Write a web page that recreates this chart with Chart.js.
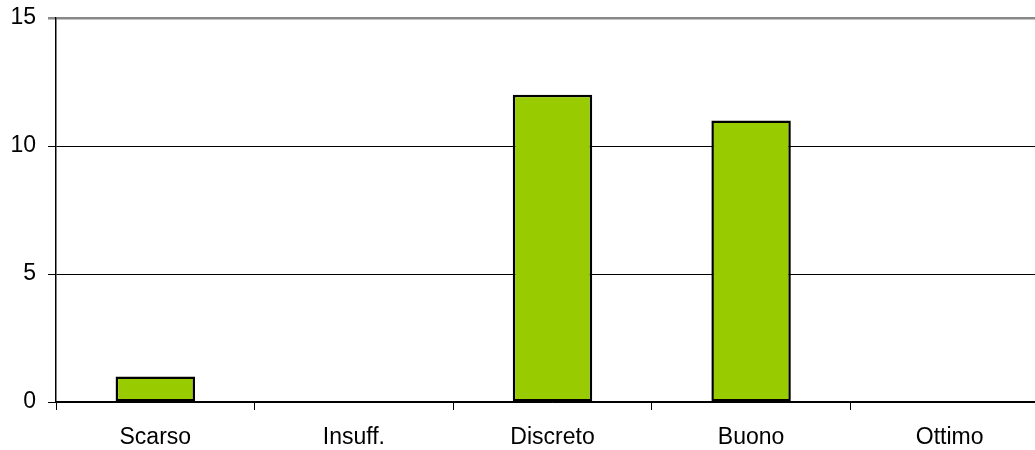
<!DOCTYPE html>
<html>
<head>
<meta charset="utf-8">
<script src="https://cdn.jsdelivr.net/npm/chart.js@4/dist/chart.umd.min.js"></script>
<style>
  html, body { margin: 0; padding: 0; background: #fff; overflow: hidden; }
  #wrap { position: relative; width: 1049px; height: 450px; }
</style>
</head>
<body>
<div id="wrap"><canvas id="chart"></canvas></div>
<script>
const categories = ['Scarso', 'Insuff.', 'Discreto', 'Buono', 'Ottimo']
const counts = [1, 0, 12, 11, 0]
const yTicks = [0, 5, 10, 15]

new Chart(document.getElementById('chart'), {
  type: 'bar',
  data: {
    labels: categories,
    datasets: [
      {
        data: counts,
        backgroundColor: '#99cc00',
        borderColor: '#000000',
        borderWidth: 2.5,
        borderSkipped: false,
        barPercentage: 0.5,
        categoryPercentage: 0.8,
      },
    ],
  },
  options: {
    responsive: true,
    maintainAspectRatio: false,
    animation: false,
    layout: { padding: { top: 18, right: 0, left: 0, bottom: 0 } },
    plugins: { legend: { display: false }, tooltip: { enabled: false } },
    scales: {
      x: {
        grid: { drawOnChartArea: false, color: '#000', tickLength: 8, offset: true },
        border: { color: '#000', width: 1.5 },
        ticks: { color: '#000', font: { family: 'Liberation Sans, Arial', size: 23 }, padding: 14 },
        afterFit: (s) => { s.height = 48 },
      },
      y: {
        min: 0,
        max: 15,
        afterBuildTicks: (s) => { s.ticks = yTicks.map((v) => ({ value: v })) },
        grid: {
          color: (ctx) => (ctx.tick && ctx.tick.value === 15 ? '#888888' : '#000000'),
          lineWidth: (ctx) => (ctx.tick && ctx.tick.value === 15 ? 2.5 : 1),
          tickLength: 8,
        },
        border: { color: '#000', width: 1.5 },
        ticks: { color: '#000', font: { family: 'Liberation Sans, Arial', size: 23 }, padding: 12 },
        afterFit: (s) => {
          s.width = 56
          s.paddingTop = 0
          s.paddingBottom = 0
        },
      },
    },
  },
})
</script>
</body>
</html>
